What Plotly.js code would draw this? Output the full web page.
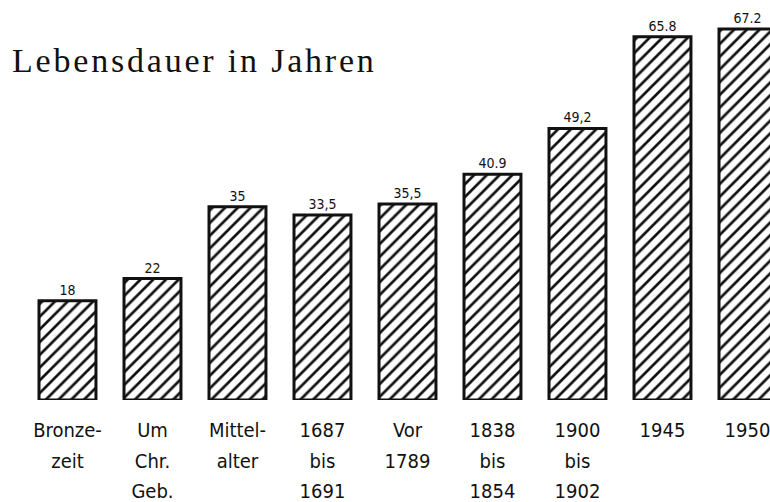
<!DOCTYPE html>
<html>
<head>
<meta charset="utf-8">
<script src="https://cdn.plot.ly/plotly-3.0.1.min.js"></script>
<style>
  html, body { margin: 0; padding: 0; background: #ffffff; }
  #chart { width: 770px; height: 502px; }
  .gtitle { letter-spacing: 2.8px; }
  .textpoint text { letter-spacing: 0.5px; }
</style>
</head>
<body>
<div id="chart"></div>
<script>
// Data
const categories = ["Bronze-<br>zeit", "Um<br>Chr.<br>Geb.", "Mittel-<br>alter", "1687<br>bis<br>1691", "Vor<br>1789", "1838<br>bis<br>1854", "1900<br>bis<br>1902", "1945", "1950"];
const lifeYears = [18, 22, 35, 33.5, 35.5, 40.9, 49.2, 65.8, 67.2];
const valueLabels = ["18", "22", "35", "33,5", "35,5", "40.9", "49,2", "65.8", "67.2"];
const titleText = "Lebensdauer in Jahren";

const positions = categories.map((_, i) => i);
const sansFamily = "'Liberation Sans Narrow', 'DejaVu Sans Condensed', 'Liberation Sans', sans-serif";

const trace = {
  type: "bar",
  x: positions,
  y: lifeYears,
  text: valueLabels,
  textposition: "outside",
  constraintext: "none",
  cliponaxis: true,
  textfont: { family: sansFamily, size: 14, color: "#111111" },
  width: 0.67,
  marker: {
    color: "#ffffff",
    line: { color: "#111111", width: 3 },
    pattern: { shape: "/", fgcolor: "#111111", bgcolor: "#ffffff", size: 9, solidity: 0.3 }
  },
  hoverinfo: "skip"
};

const layout = {
  width: 770,
  height: 502,
  margin: { l: 0, r: 0, t: 0, b: 102 },
  paper_bgcolor: "#ffffff",
  plot_bgcolor: "#ffffff",
  showlegend: false,
  title: {
    text: titleText,
    font: { family: "'Liberation Serif', 'DejaVu Serif', serif", size: 34, color: "#111111" },
    x: 12 / 770,
    xref: "container",
    xanchor: "left",
    y: 1 - 60 / 502,
    yref: "container",
    yanchor: "middle"
  },
  xaxis: {
    range: [-0.794, 8.265],
    tickmode: "array",
    tickvals: positions,
    ticktext: categories,
    showgrid: false,
    zeroline: false,
    showline: false,
    ticks: "",
    ticklabelstandoff: 16,
    ticklabeloverflow: "allow",
    tickfont: { family: sansFamily, size: 20, color: "#111111" },
    fixedrange: true
  },
  yaxis: {
    range: [0, 72.46],
    visible: false,
    showgrid: false,
    zeroline: false,
    fixedrange: true
  }
};

Plotly.newPlot("chart", [trace], layout, { displayModeBar: false, staticPlot: true }).then(function (gd) {
  // widen the line spacing of the multi-line category labels to match the reference
  gd.querySelectorAll(".xtick text").forEach(function (t) {
    t.querySelectorAll("tspan.line").forEach(function (ts, i) {
      ts.setAttribute("dy", (i * 1.53) + "em");
    });
  });
});
</script>
</body>
</html>
